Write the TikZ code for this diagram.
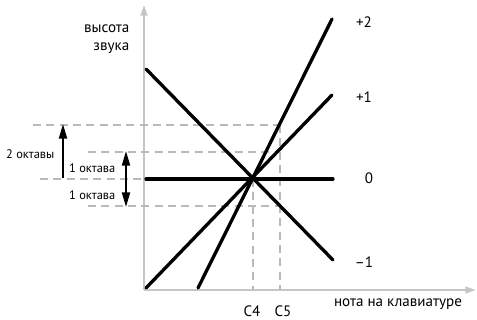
\documentclass[tikz,border=0pt]{standalone}
\usepackage{fontspec}
\setmainfont{PT Sans}
\usetikzlibrary{arrows.meta}

\begin{document}
\begin{tikzpicture}[
  x=0.75pt, y=-0.75pt,
  font=\fontsize{11.3}{13.5}\selectfont,
  axis/.style={draw=gray!45, line width=1.6pt, -{Triangle[length=8pt, width=5pt]}},
  pitch/.style={line width=2.5pt, line cap=round},
  guide/.style={draw=gray!55, line width=0.8pt, dash pattern=on 6pt off 4pt},
  octave/.style={line width=1.5pt, -{Triangle[length=11pt, width=6pt]}},
  small/.style={font=\fontsize{9.3}{11}\selectfont}
]
\useasboundingbox (0,0) rectangle (477,320);

% axes
\coordinate (origin) at (144,290);
\coordinate (ytip) at (144,5);
\coordinate (xtip) at (476,290);
\draw[axis] (origin) -- (ytip);
\draw[axis] (origin) -- (xtip);

% reference levels
\coordinate (c4) at (253,179);
\coordinate (c4base) at (253,290);
\coordinate (c5top) at (280,125);
\coordinate (c5base) at (280,290);
\coordinate (twoL) at (33,125);
\coordinate (oneL) at (88,152);
\coordinate (oneR) at (280,152);
\coordinate (zeroL) at (40,179);
\coordinate (minusL) at (88,206);
\coordinate (minusR) at (280,206);
\draw[guide] (twoL) -- (c5top);
\draw[guide] (oneL) -- (oneR);
\draw[guide] (zeroL) -- (origin |- c4);
\draw[guide] (minusL) -- (minusR);
\draw[guide] (c4) -- (c4base);
\draw[guide] (c5top) -- (c5base);

% pitch lines
\coordinate (zeroA) at (146,179);
\coordinate (zeroB) at (333,179);
\coordinate (minA) at (146,69);
\coordinate (minB) at (333,260);
\coordinate (oneA) at (146,288);
\coordinate (oneB) at (332,95);
\coordinate (twoA) at (198,288);
\coordinate (twoB) at (332,19);
\draw[pitch] (zeroA) -- (zeroB);
\draw[pitch] (minA) -- (minB);
\draw[pitch] (oneA) -- (oneB);
\draw[pitch] (twoA) -- (twoB);

\node (lplus2) at (364,22) {+2};
\node (lplus1) at (364,97) {+1};
\node (lzero) at (369,178) {0};
\node (lminus1) at (364,262) {–1};

% octave arrows
\coordinate (twoFrom) at (63,178);
\coordinate (twoTo) at (63,124);
\coordinate (oneFrom) at (126,179);
\coordinate (oneTo) at (126,151);
\coordinate (downTo) at (126,207);
\draw[octave] (twoFrom) -- (twoTo);
\draw[octave] (oneFrom) -- (oneTo);
\draw[octave] (oneFrom) -- (downTo);
\node[small, anchor=east] (ltwo) at (59,154) {2 октавы};
\node[small, anchor=east] (lup) at (120,168) {1 октава};
\node[small, anchor=east] (ldown) at (120,195) {1 октава};

% axis labels
\node[anchor=east, align=right] (ylabel) at (134,39) {высота\\звука};
\node (xlabel) at (398,304) {нота на клавиатуре};
\node (lc4) at (252,311) {C4};
\node (lc5) at (283,311) {C5};
\end{tikzpicture}
\end{document}
